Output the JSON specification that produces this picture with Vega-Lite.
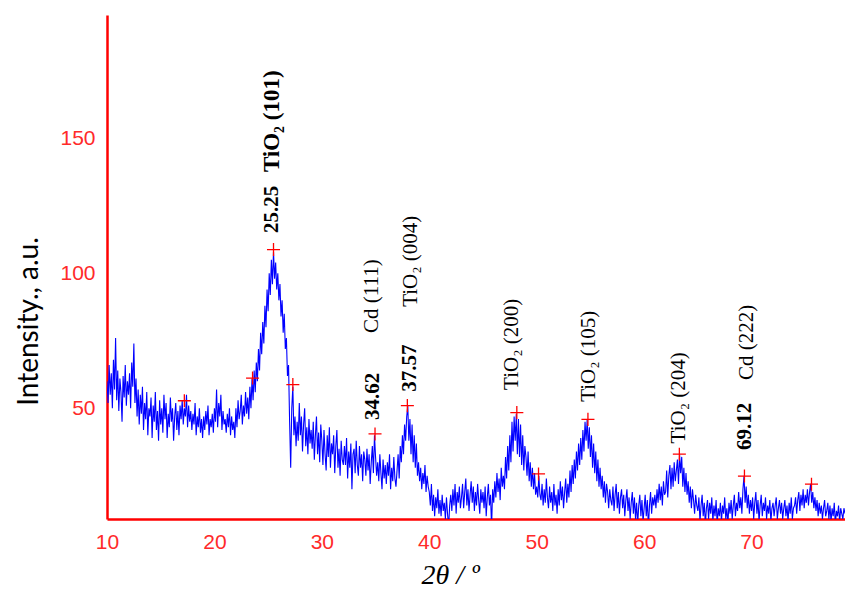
{
  "$schema": "https://vega.github.io/schema/vega-lite/v6.json",
  "width": 738,
  "height": 504,
  "autosize": "none",
  "padding": {"left": 107, "top": 15, "right": 0, "bottom": 70},
  "background": "white",
  "config": {
    "view": {"stroke": null},
    "axis": {
      "grid": false,
      "ticks": false,
      "domainColor": "#FF0000",
      "domainWidth": 2.5,
      "labelColor": "#FF2A2A",
      "labelFont": "Liberation Sans",
      "labelFontSize": 21,
      "labelPadding": 12,
      "labelFlush": false,
      "titleColor": "#000000",
      "titleFontWeight": "normal"
    }
  },
  "datasets": {
    "xrd": [
      {"x":10.0,"y":60},{"x":10.1,"y":52},{"x":10.2,"y":66},{"x":10.3,"y":55},{"x":10.4,"y":63},{"x":10.5,"y":50},{"x":10.6,"y":68},{"x":10.7,"y":57},{"x":10.8,"y":76},{"x":10.9,"y":53},
      {"x":11.0,"y":64},{"x":11.1,"y":49},{"x":11.2,"y":61},{"x":11.3,"y":56},{"x":11.4,"y":45},{"x":11.5,"y":62},{"x":11.6,"y":54},{"x":11.7,"y":66},{"x":11.8,"y":51},{"x":11.9,"y":60},
      {"x":12.0,"y":55},{"x":12.1,"y":63},{"x":12.2,"y":50},{"x":12.3,"y":67},{"x":12.4,"y":58},{"x":12.5,"y":74},{"x":12.6,"y":52},{"x":12.7,"y":61},{"x":12.8,"y":47},{"x":12.9,"y":57},
      {"x":13.0,"y":44},{"x":13.1,"y":55},{"x":13.2,"y":48},{"x":13.3,"y":58},{"x":13.4,"y":42},{"x":13.5,"y":52},{"x":13.6,"y":46},{"x":13.7,"y":56},{"x":13.8,"y":40},{"x":13.9,"y":50},
      {"x":14.0,"y":47},{"x":14.1,"y":54},{"x":14.2,"y":39},{"x":14.3,"y":51},{"x":14.4,"y":45},{"x":14.5,"y":56},{"x":14.6,"y":42},{"x":14.7,"y":49},{"x":14.8,"y":38},{"x":14.9,"y":53},
      {"x":15.0,"y":44},{"x":15.1,"y":50},{"x":15.2,"y":41},{"x":15.3,"y":55},{"x":15.4,"y":46},{"x":15.5,"y":52},{"x":15.6,"y":39},{"x":15.7,"y":48},{"x":15.8,"y":43},{"x":15.9,"y":54},
      {"x":16.0,"y":45},{"x":16.1,"y":50},{"x":16.2,"y":38},{"x":16.3,"y":47},{"x":16.4,"y":52},{"x":16.5,"y":42},{"x":16.6,"y":49},{"x":16.7,"y":40},{"x":16.8,"y":51},{"x":16.9,"y":46},
      {"x":17.0,"y":53},{"x":17.1,"y":44},{"x":17.2,"y":50},{"x":17.3,"y":47},{"x":17.4,"y":55},{"x":17.5,"y":43},{"x":17.6,"y":51},{"x":17.7,"y":45},{"x":17.8,"y":49},{"x":17.9,"y":42},
      {"x":18.0,"y":48},{"x":18.1,"y":44},{"x":18.2,"y":52},{"x":18.3,"y":40},{"x":18.4,"y":47},{"x":18.5,"y":43},{"x":18.6,"y":50},{"x":18.7,"y":41},{"x":18.8,"y":46},{"x":18.9,"y":39},
      {"x":19.0,"y":47},{"x":19.1,"y":42},{"x":19.2,"y":49},{"x":19.3,"y":44},{"x":19.4,"y":51},{"x":19.5,"y":40},{"x":19.6,"y":46},{"x":19.7,"y":43},{"x":19.8,"y":48},{"x":19.9,"y":41},
      {"x":20.0,"y":50},{"x":20.1,"y":45},{"x":20.2,"y":57},{"x":20.3,"y":43},{"x":20.4,"y":52},{"x":20.5,"y":47},{"x":20.6,"y":55},{"x":20.7,"y":42},{"x":20.8,"y":49},{"x":20.9,"y":44},
      {"x":21.0,"y":46},{"x":21.1,"y":41},{"x":21.2,"y":48},{"x":21.3,"y":43},{"x":21.4,"y":50},{"x":21.5,"y":40},{"x":21.6,"y":47},{"x":21.7,"y":42},{"x":21.8,"y":45},{"x":21.9,"y":39},
      {"x":22.0,"y":50},{"x":22.1,"y":43},{"x":22.2,"y":53},{"x":22.3,"y":46},{"x":22.4,"y":49},{"x":22.5,"y":55},{"x":22.6,"y":44},{"x":22.7,"y":51},{"x":22.8,"y":47},{"x":22.9,"y":56},
      {"x":23.0,"y":48},{"x":23.1,"y":54},{"x":23.2,"y":46},{"x":23.3,"y":58},{"x":23.4,"y":50},{"x":23.5,"y":61},{"x":23.6,"y":53},{"x":23.7,"y":64},{"x":23.8,"y":56},{"x":23.9,"y":67},
      {"x":24.0,"y":60},{"x":24.1,"y":72},{"x":24.2,"y":64},{"x":24.3,"y":78},{"x":24.4,"y":70},{"x":24.5,"y":82},{"x":24.6,"y":74},{"x":24.7,"y":88},{"x":24.8,"y":80},{"x":24.9,"y":94},
      {"x":25.0,"y":86},{"x":25.1,"y":100},{"x":25.2,"y":92},{"x":25.3,"y":105},{"x":25.4,"y":96},{"x":25.5,"y":108},{"x":25.6,"y":98},{"x":25.7,"y":104},{"x":25.8,"y":94},{"x":25.9,"y":100},
      {"x":26.0,"y":90},{"x":26.1,"y":96},{"x":26.2,"y":84},{"x":26.3,"y":90},{"x":26.4,"y":78},{"x":26.5,"y":85},{"x":26.6,"y":72},{"x":26.7,"y":76},{"x":26.8,"y":62},{"x":26.9,"y":66},
      {"x":27.0,"y":45},{"x":27.1,"y":28},{"x":27.2,"y":50},{"x":27.3,"y":58},{"x":27.4,"y":40},{"x":27.5,"y":47},{"x":27.6,"y":36},{"x":27.7,"y":45},{"x":27.8,"y":38},{"x":27.9,"y":52},
      {"x":28.0,"y":40},{"x":28.1,"y":47},{"x":28.2,"y":34},{"x":28.3,"y":44},{"x":28.4,"y":50},{"x":28.5,"y":36},{"x":28.6,"y":43},{"x":28.7,"y":33},{"x":28.8,"y":46},{"x":28.9,"y":37},
      {"x":29.0,"y":42},{"x":29.1,"y":35},{"x":29.2,"y":45},{"x":29.3,"y":31},{"x":29.4,"y":40},{"x":29.5,"y":47},{"x":29.6,"y":33},{"x":29.7,"y":41},{"x":29.8,"y":30},{"x":29.9,"y":44},
      {"x":30.0,"y":38},{"x":30.1,"y":29},{"x":30.2,"y":42},{"x":30.3,"y":33},{"x":30.4,"y":27},{"x":30.5,"y":40},{"x":30.6,"y":32},{"x":30.7,"y":43},{"x":30.8,"y":28},{"x":30.9,"y":37},
      {"x":31.0,"y":33},{"x":31.1,"y":40},{"x":31.2,"y":26},{"x":31.3,"y":36},{"x":31.4,"y":42},{"x":31.5,"y":28},{"x":31.6,"y":35},{"x":31.7,"y":25},{"x":31.8,"y":38},{"x":31.9,"y":31},
      {"x":32.0,"y":29},{"x":32.1,"y":36},{"x":32.2,"y":29},{"x":32.3,"y":39},{"x":32.4,"y":24},{"x":32.5,"y":34},{"x":32.6,"y":28},{"x":32.7,"y":37},{"x":32.8,"y":20},{"x":32.9,"y":33},
      {"x":33.0,"y":35},{"x":33.1,"y":26},{"x":33.2,"y":38},{"x":33.3,"y":29},{"x":33.4,"y":25},{"x":33.5,"y":36},{"x":33.6,"y":28},{"x":33.7,"y":33},{"x":33.8,"y":23},{"x":33.9,"y":34},
      {"x":34.0,"y":31},{"x":34.1,"y":25},{"x":34.2,"y":35},{"x":34.3,"y":27},{"x":34.4,"y":33},{"x":34.5,"y":22},{"x":34.6,"y":30},{"x":34.7,"y":36},{"x":34.8,"y":26},{"x":34.9,"y":40},
      {"x":35.0,"y":32},{"x":35.1,"y":25},{"x":35.2,"y":30},{"x":35.3,"y":23},{"x":35.4,"y":33},{"x":35.5,"y":26},{"x":35.6,"y":20},{"x":35.7,"y":31},{"x":35.8,"y":24},{"x":35.9,"y":29},
      {"x":36.0,"y":22},{"x":36.1,"y":30},{"x":36.2,"y":25},{"x":36.3,"y":33},{"x":36.4,"y":20},{"x":36.5,"y":28},{"x":36.6,"y":23},{"x":36.7,"y":32},{"x":36.8,"y":24},{"x":36.9,"y":21},
      {"x":37.0,"y":27},{"x":37.1,"y":33},{"x":37.2,"y":24},{"x":37.3,"y":36},{"x":37.4,"y":30},{"x":37.5,"y":40},{"x":37.6,"y":33},{"x":37.7,"y":44},{"x":37.8,"y":38},{"x":37.9,"y":47},
      {"x":38.0,"y":51},{"x":38.1,"y":38},{"x":38.2,"y":46},{"x":38.3,"y":33},{"x":38.4,"y":44},{"x":38.5,"y":30},{"x":38.6,"y":40},{"x":38.7,"y":28},{"x":38.8,"y":37},{"x":38.9,"y":25},
      {"x":39.0,"y":30},{"x":39.1,"y":23},{"x":39.2,"y":28},{"x":39.3,"y":20},{"x":39.4,"y":26},{"x":39.5,"y":22},{"x":39.6,"y":29},{"x":39.7,"y":19},{"x":39.8,"y":25},{"x":39.9,"y":21},
      {"x":40.0,"y":19},{"x":40.1,"y":14},{"x":40.2,"y":22},{"x":40.3,"y":12},{"x":40.4,"y":18},{"x":40.5,"y":10},{"x":40.6,"y":17},{"x":40.7,"y":13},{"x":40.8,"y":20},{"x":40.9,"y":11},
      {"x":41.0,"y":16},{"x":41.1,"y":10},{"x":41.2,"y":18},{"x":41.3,"y":12},{"x":41.4,"y":15},{"x":41.5,"y":9},{"x":41.6,"y":17},{"x":41.7,"y":11},{"x":41.8,"y":6},{"x":41.9,"y":14},
      {"x":42.0,"y":18},{"x":42.1,"y":12},{"x":42.2,"y":20},{"x":42.3,"y":14},{"x":42.4,"y":22},{"x":42.5,"y":11},{"x":42.6,"y":19},{"x":42.7,"y":15},{"x":42.8,"y":21},{"x":42.9,"y":13},
      {"x":43.0,"y":17},{"x":43.1,"y":22},{"x":43.2,"y":13},{"x":43.3,"y":19},{"x":43.4,"y":24},{"x":43.5,"y":14},{"x":43.6,"y":20},{"x":43.7,"y":12},{"x":43.8,"y":18},{"x":43.9,"y":23},
      {"x":44.0,"y":15},{"x":44.1,"y":21},{"x":44.2,"y":12},{"x":44.3,"y":19},{"x":44.4,"y":14},{"x":44.5,"y":22},{"x":44.6,"y":16},{"x":44.7,"y":11},{"x":44.8,"y":20},{"x":44.9,"y":15},
      {"x":45.0,"y":19},{"x":45.1,"y":13},{"x":45.2,"y":21},{"x":45.3,"y":10},{"x":45.4,"y":17},{"x":45.5,"y":22},{"x":45.6,"y":14},{"x":45.7,"y":18},{"x":45.8,"y":6},{"x":45.9,"y":20},
      {"x":46.0,"y":15},{"x":46.1,"y":23},{"x":46.2,"y":17},{"x":46.3,"y":26},{"x":46.4,"y":19},{"x":46.5,"y":24},{"x":46.6,"y":16},{"x":46.7,"y":28},{"x":46.8,"y":21},{"x":46.9,"y":25},
      {"x":47.0,"y":20},{"x":47.1,"y":32},{"x":47.2,"y":24},{"x":47.3,"y":36},{"x":47.4,"y":27},{"x":47.5,"y":40},{"x":47.6,"y":30},{"x":47.7,"y":45},{"x":47.8,"y":34},{"x":47.9,"y":47},
      {"x":48.0,"y":38},{"x":48.1,"y":48},{"x":48.2,"y":33},{"x":48.3,"y":46},{"x":48.4,"y":32},{"x":48.5,"y":44},{"x":48.6,"y":29},{"x":48.7,"y":40},{"x":48.8,"y":27},{"x":48.9,"y":36},
      {"x":49.0,"y":32},{"x":49.1,"y":25},{"x":49.2,"y":34},{"x":49.3,"y":23},{"x":49.4,"y":30},{"x":49.5,"y":21},{"x":49.6,"y":28},{"x":49.7,"y":20},{"x":49.8,"y":26},{"x":49.9,"y":18},
      {"x":50.0,"y":21},{"x":50.1,"y":17},{"x":50.2,"y":25},{"x":50.3,"y":18},{"x":50.4,"y":16},{"x":50.5,"y":22},{"x":50.6,"y":14},{"x":50.7,"y":20},{"x":50.8,"y":15},{"x":50.9,"y":24},
      {"x":51.0,"y":17},{"x":51.1,"y":13},{"x":51.2,"y":21},{"x":51.3,"y":15},{"x":51.4,"y":19},{"x":51.5,"y":12},{"x":51.6,"y":22},{"x":51.7,"y":14},{"x":51.8,"y":18},{"x":51.9,"y":11},
      {"x":52.0,"y":20},{"x":52.1,"y":14},{"x":52.2,"y":23},{"x":52.3,"y":16},{"x":52.4,"y":21},{"x":52.5,"y":13},{"x":52.6,"y":19},{"x":52.7,"y":24},{"x":52.8,"y":15},{"x":52.9,"y":22},
      {"x":53.0,"y":17},{"x":53.1,"y":27},{"x":53.2,"y":19},{"x":53.3,"y":29},{"x":53.4,"y":22},{"x":53.5,"y":31},{"x":53.6,"y":24},{"x":53.7,"y":34},{"x":53.8,"y":27},{"x":53.9,"y":37},
      {"x":54.0,"y":29},{"x":54.1,"y":39},{"x":54.2,"y":31},{"x":54.3,"y":42},{"x":54.4,"y":34},{"x":54.5,"y":45},{"x":54.6,"y":38},{"x":54.7,"y":46},{"x":54.8,"y":35},{"x":54.9,"y":43},
      {"x":55.0,"y":32},{"x":55.1,"y":40},{"x":55.2,"y":28},{"x":55.3,"y":37},{"x":55.4,"y":26},{"x":55.5,"y":34},{"x":55.6,"y":23},{"x":55.7,"y":31},{"x":55.8,"y":21},{"x":55.9,"y":28},
      {"x":56.0,"y":20},{"x":56.1,"y":25},{"x":56.2,"y":17},{"x":56.3,"y":23},{"x":56.4,"y":15},{"x":56.5,"y":22},{"x":56.6,"y":19},{"x":56.7,"y":13},{"x":56.8,"y":20},{"x":56.9,"y":16},
      {"x":57.0,"y":14},{"x":57.1,"y":21},{"x":57.2,"y":12},{"x":57.3,"y":18},{"x":57.4,"y":22},{"x":57.5,"y":13},{"x":57.6,"y":19},{"x":57.7,"y":11},{"x":57.8,"y":17},{"x":57.9,"y":20},
      {"x":58.0,"y":13},{"x":58.1,"y":18},{"x":58.2,"y":10},{"x":58.3,"y":16},{"x":58.4,"y":20},{"x":58.5,"y":12},{"x":58.6,"y":17},{"x":58.7,"y":9},{"x":58.8,"y":15},{"x":58.9,"y":19},
      {"x":59.0,"y":11},{"x":59.1,"y":17},{"x":59.2,"y":9},{"x":59.3,"y":15},{"x":59.4,"y":7},{"x":59.5,"y":14},{"x":59.6,"y":18},{"x":59.7,"y":10},{"x":59.8,"y":16},{"x":59.9,"y":8},
      {"x":60.0,"y":13},{"x":60.1,"y":18},{"x":60.2,"y":10},{"x":60.3,"y":16},{"x":60.4,"y":6},{"x":60.5,"y":14},{"x":60.6,"y":19},{"x":60.7,"y":11},{"x":60.8,"y":17},{"x":60.9,"y":14},
      {"x":61.0,"y":18},{"x":61.1,"y":13},{"x":61.2,"y":20},{"x":61.3,"y":15},{"x":61.4,"y":22},{"x":61.5,"y":16},{"x":61.6,"y":21},{"x":61.7,"y":14},{"x":61.8,"y":23},{"x":61.9,"y":18},
      {"x":62.0,"y":19},{"x":62.1,"y":27},{"x":62.2,"y":17},{"x":62.3,"y":25},{"x":62.4,"y":29},{"x":62.5,"y":20},{"x":62.6,"y":28},{"x":62.7,"y":21},{"x":62.8,"y":30},{"x":62.9,"y":23},
      {"x":63.0,"y":27},{"x":63.1,"y":31},{"x":63.2,"y":22},{"x":63.3,"y":33},{"x":63.4,"y":26},{"x":63.5,"y":32},{"x":63.6,"y":21},{"x":63.7,"y":28},{"x":63.8,"y":19},{"x":63.9,"y":26},
      {"x":64.0,"y":18},{"x":64.1,"y":23},{"x":64.2,"y":15},{"x":64.3,"y":21},{"x":64.4,"y":13},{"x":64.5,"y":20},{"x":64.6,"y":16},{"x":64.7,"y":11},{"x":64.8,"y":18},{"x":64.9,"y":14},
      {"x":65.0,"y":12},{"x":65.1,"y":17},{"x":65.2,"y":8},{"x":65.3,"y":14},{"x":65.4,"y":18},{"x":65.5,"y":10},{"x":65.6,"y":15},{"x":65.7,"y":7},{"x":65.8,"y":13},{"x":65.9,"y":16},
      {"x":66.0,"y":9},{"x":66.1,"y":15},{"x":66.2,"y":11},{"x":66.3,"y":17},{"x":66.4,"y":8},{"x":66.5,"y":14},{"x":66.6,"y":10},{"x":66.7,"y":16},{"x":66.8,"y":7},{"x":66.9,"y":13},
      {"x":67.0,"y":10},{"x":67.1,"y":15},{"x":67.2,"y":8},{"x":67.3,"y":14},{"x":67.4,"y":11},{"x":67.5,"y":17},{"x":67.6,"y":9},{"x":67.7,"y":13},{"x":67.8,"y":7},{"x":67.9,"y":15},
      {"x":68.0,"y":11},{"x":68.1,"y":16},{"x":68.2,"y":9},{"x":68.3,"y":14},{"x":68.4,"y":18},{"x":68.5,"y":10},{"x":68.6,"y":15},{"x":68.7,"y":12},{"x":68.8,"y":19},{"x":68.9,"y":13},
      {"x":69.0,"y":17},{"x":69.1,"y":11},{"x":69.2,"y":20},{"x":69.3,"y":25},{"x":69.4,"y":15},{"x":69.5,"y":21},{"x":69.6,"y":13},{"x":69.7,"y":18},{"x":69.8,"y":11},{"x":69.9,"y":16},
      {"x":70.0,"y":12},{"x":70.1,"y":17},{"x":70.2,"y":9},{"x":70.3,"y":15},{"x":70.4,"y":19},{"x":70.5,"y":11},{"x":70.6,"y":16},{"x":70.7,"y":8},{"x":70.8,"y":14},{"x":70.9,"y":18},
      {"x":71.0,"y":10},{"x":71.1,"y":15},{"x":71.2,"y":12},{"x":71.3,"y":17},{"x":71.4,"y":9},{"x":71.5,"y":14},{"x":71.6,"y":11},{"x":71.7,"y":16},{"x":71.8,"y":8},{"x":71.9,"y":13},
      {"x":72.0,"y":15},{"x":72.1,"y":10},{"x":72.2,"y":14},{"x":72.3,"y":17},{"x":72.4,"y":9},{"x":72.5,"y":13},{"x":72.6,"y":16},{"x":72.7,"y":11},{"x":72.8,"y":15},{"x":72.9,"y":9},
      {"x":73.0,"y":13},{"x":73.1,"y":16},{"x":73.2,"y":10},{"x":73.3,"y":14},{"x":73.4,"y":8},{"x":73.5,"y":15},{"x":73.6,"y":11},{"x":73.7,"y":17},{"x":73.8,"y":9},{"x":73.9,"y":13},
      {"x":74.0,"y":14},{"x":74.1,"y":17},{"x":74.2,"y":11},{"x":74.3,"y":16},{"x":74.4,"y":19},{"x":74.5,"y":12},{"x":74.6,"y":18},{"x":74.7,"y":14},{"x":74.8,"y":20},{"x":74.9,"y":13},
      {"x":75.0,"y":18},{"x":75.1,"y":15},{"x":75.2,"y":20},{"x":75.3,"y":14},{"x":75.4,"y":19},{"x":75.5,"y":22},{"x":75.6,"y":15},{"x":75.7,"y":19},{"x":75.8,"y":13},{"x":75.9,"y":17},
      {"x":76.0,"y":12},{"x":76.1,"y":16},{"x":76.2,"y":10},{"x":76.3,"y":15},{"x":76.4,"y":11},{"x":76.5,"y":14},{"x":76.6,"y":9},{"x":76.7,"y":13},{"x":76.8,"y":16},{"x":76.9,"y":10},
      {"x":77.0,"y":12},{"x":77.1,"y":15},{"x":77.2,"y":9},{"x":77.3,"y":14},{"x":77.4,"y":8},{"x":77.5,"y":13},{"x":77.6,"y":10},{"x":77.7,"y":15},{"x":77.8,"y":7},{"x":77.9,"y":12},
      {"x":78.0,"y":10},{"x":78.1,"y":14},{"x":78.2,"y":8},{"x":78.3,"y":13},{"x":78.4,"y":11},{"x":78.5,"y":9},{"x":78.6,"y":13},{"x":78.7,"y":11}
    ],
    "peaks": [
      {"x":17.2,"y":52.8},{"x":23.55,"y":61.2},{"x":25.5,"y":108.8},{"x":27.3,"y":58.8},
      {"x":34.95,"y":40.5},{"x":37.96,"y":51},{"x":48.15,"y":48.4},{"x":50.17,"y":25.7},
      {"x":54.77,"y":45.9},{"x":63.28,"y":33},{"x":69.34,"y":24.9},{"x":75.58,"y":21.9}
    ],
    "notes": [
      {"x":25.35,"y":114.9,"t":"25.25","k":"num"},
      {"x":25.4,"y":137.5,"t":"TiO₂ (101)","k":"main"},
      {"x":34.73,"y":45.7,"t":"34.62","k":"num"},
      {"x":34.64,"y":77.9,"t":"Cd (111)","k":"plain"},
      {"x":38.21,"y":56.1,"t":"37.57","k":"num"},
      {"x":38.3,"y":87.6,"t":"TiO₂ (004)","k":"plain"},
      {"x":47.69,"y":56.8,"t":"TiO₂ (200)","k":"plain"},
      {"x":54.83,"y":52.4,"t":"TiO₂ (105)","k":"plain"},
      {"x":63.21,"y":37.0,"t":"TiO₂ (204)","k":"plain"},
      {"x":69.43,"y":34.6,"t":"69.12","k":"num"},
      {"x":69.59,"y":60.5,"t":"Cd (222)","k":"plain"}
    ]
  },
  "layer": [
    {
      "data": {"name": "xrd"},
      "mark": {"type": "line", "color": "#0000FF", "strokeWidth": 1.1, "clip": true},
      "encoding": {
        "x": {
          "field": "x", "type": "quantitative",
          "scale": {"domain": [10, 78.7], "nice": false, "zero": false},
          "axis": {
            "values": [10, 20, 30, 40, 50, 60, 70],
            "title": "2θ / º",
            "titleFont": "Liberation Serif",
            "titleFontStyle": "italic",
            "titleFontSize": 28,
            "titleX": 343,
            "titleY": 56,
            "titleBaseline": "middle",
            "titleAlign": "center"
          }
        },
        "y": {
          "field": "y", "type": "quantitative",
          "scale": {"domain": [9, 195.7], "nice": false, "zero": false},
          "axis": {
            "values": [50, 100, 150],
            "title": "Intensity., a.u.",
            "titleFont": "Lato",
            "titleFontSize": 28,
            "titleAngle": 270,
            "titleX": -78,
            "titleY": 306,
            "titleAlign": "center",
            "titleBaseline": "middle"
          }
        }
      }
    },
    {
      "data": {"name": "peaks"},
      "mark": {"type": "point", "shape": "M-1,0L1,0M0,-1L0,1", "filled": false, "stroke": "#FF0000", "strokeWidth": 1.3, "size": 170, "opacity": 1},
      "encoding": {
        "x": {"field": "x", "type": "quantitative"},
        "y": {"field": "y", "type": "quantitative"}
      }
    },
    {
      "data": {"name": "notes"},
      "transform": [{"filter": "datum.k == 'num'"}],
      "mark": {"type": "text", "angle": 270, "align": "left", "baseline": "middle", "font": "Liberation Serif", "fontSize": 21, "fontWeight": "bold", "color": "#000000"},
      "encoding": {
        "x": {"field": "x", "type": "quantitative"},
        "y": {"field": "y", "type": "quantitative"},
        "text": {"field": "t"}
      }
    },
    {
      "data": {"name": "notes"},
      "transform": [{"filter": "datum.k == 'main'"}],
      "mark": {"type": "text", "angle": 270, "align": "left", "baseline": "middle", "font": "Liberation Serif", "fontSize": 23, "fontWeight": "bold", "color": "#000000"},
      "encoding": {
        "x": {"field": "x", "type": "quantitative"},
        "y": {"field": "y", "type": "quantitative"},
        "text": {"field": "t"}
      }
    },
    {
      "data": {"name": "notes"},
      "transform": [{"filter": "datum.k == 'plain'"}],
      "mark": {"type": "text", "angle": 270, "align": "left", "baseline": "middle", "font": "Liberation Serif", "fontSize": 21, "fontWeight": "normal", "color": "#000000"},
      "encoding": {
        "x": {"field": "x", "type": "quantitative"},
        "y": {"field": "y", "type": "quantitative"},
        "text": {"field": "t"}
      }
    }
  ]
}
